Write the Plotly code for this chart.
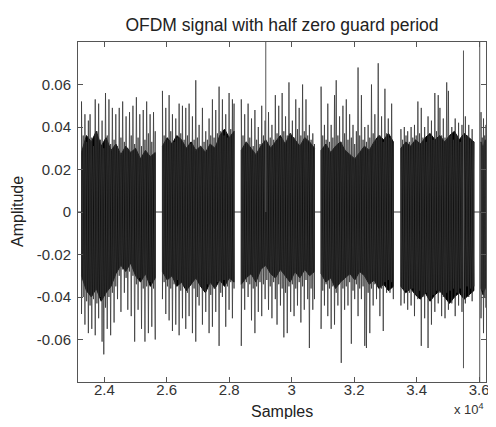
"""Plot an OFDM signal segment whose symbols are separated by half zero guard periods."""

from __future__ import annotations

import numpy as np
import plotly.graph_objects as go

# first sample shown and the sample span of every visible OFDM symbol
first_sample = 23150
symbol_start = [23270, 25862, 28386, 30941, 33497, 36062]
symbol_end = [25631, 28155, 30730, 33254, 35832, 36260]

# positive peaks of each symbol, left to right
upper_peaks = [
    [0.052, 0.036, 0.046, 0.033, 0.043, 0.046, 0.035, 0.031, 0.053, 0.038, 0.051,
     0.034, 0.043, 0.030, 0.056, 0.036, 0.053, 0.032, 0.049, 0.034, 0.046, 0.031,
     0.049, 0.035, 0.052, 0.033, 0.045, 0.030, 0.047, 0.036, 0.050, 0.032, 0.054,
     0.035, 0.046, 0.031, 0.048, 0.034, 0.052, 0.037, 0.046, 0.033, 0.047, 0.038],
    [0.057, 0.036, 0.049, 0.034, 0.055, 0.038, 0.046, 0.033, 0.044, 0.035, 0.051,
     0.037, 0.050, 0.034, 0.049, 0.036, 0.051, 0.032, 0.045, 0.034, 0.062, 0.035,
     0.041, 0.031, 0.049, 0.033, 0.038, 0.034, 0.044, 0.036, 0.053, 0.035, 0.048,
     0.037, 0.059, 0.038, 0.053, 0.036, 0.046, 0.035, 0.056, 0.039, 0.053, 0.051],
    [0.053, 0.036, 0.046, 0.033, 0.051, 0.035, 0.044, 0.031, 0.048, 0.034, 0.040,
     0.032, 0.050, 0.036, 0.043, 0.033, 0.047, 0.035, 0.041, 0.034, 0.055, 0.037,
     0.050, 0.035, 0.056, 0.038, 0.045, 0.036, 0.061, 0.037, 0.043, 0.035, 0.053,
     0.039, 0.049, 0.036, 0.060, 0.038, 0.053, 0.036, 0.041, 0.034, 0.037, 0.032],
    [0.059, 0.036, 0.041, 0.034, 0.051, 0.033, 0.041, 0.035, 0.055, 0.062, 0.036,
     0.045, 0.033, 0.050, 0.037, 0.053, 0.034, 0.046, 0.035, 0.041, 0.032, 0.038,
     0.068, 0.036, 0.055, 0.034, 0.040, 0.033, 0.041, 0.035, 0.060, 0.037, 0.046,
     0.034, 0.070, 0.036, 0.045, 0.033, 0.058, 0.037, 0.044, 0.035, 0.051, 0.033],
    [0.039, 0.034, 0.040, 0.036, 0.038, 0.033, 0.040, 0.035, 0.041, 0.036, 0.052,
     0.037, 0.049, 0.035, 0.040, 0.033, 0.045, 0.036, 0.043, 0.034, 0.056, 0.038,
     0.055, 0.049, 0.036, 0.044, 0.035, 0.061, 0.057, 0.036, 0.040, 0.034, 0.044,
     0.036, 0.042, 0.033, 0.041, 0.035, 0.045, 0.036, 0.041, 0.034, 0.039, 0.033],
    [0.047, 0.035, 0.044, 0.036, 0.041, 0.034],
]

# negative peaks of each symbol, left to right
lower_peaks = [
    [-0.048, -0.040, -0.053, -0.042, -0.057, -0.044, -0.055, -0.041, -0.058, -0.043,
     -0.050, -0.040, -0.061, -0.067, -0.045, -0.055, -0.040, -0.058, -0.038, -0.052,
     -0.035, -0.041, -0.030, -0.047, -0.027, -0.038, -0.031, -0.046, -0.028, -0.049,
     -0.030, -0.061, -0.034, -0.046, -0.031, -0.055, -0.036, -0.061, -0.035, -0.057,
     -0.033, -0.054, -0.036, -0.060],
    [-0.041, -0.033, -0.048, -0.035, -0.051, -0.036, -0.056, -0.034, -0.053, -0.032,
     -0.058, -0.037, -0.050, -0.035, -0.055, -0.038, -0.049, -0.034, -0.057, -0.036,
     -0.061, -0.040, -0.044, -0.035, -0.053, -0.037, -0.047, -0.034, -0.057, -0.039,
     -0.054, -0.036, -0.047, -0.033, -0.063, -0.038, -0.040, -0.032, -0.054, -0.035,
     -0.046, -0.033, -0.050, -0.036],
    [-0.063, -0.036, -0.046, -0.033, -0.040, -0.034, -0.051, -0.036, -0.057, -0.035,
     -0.047, -0.033, -0.049, -0.034, -0.041, -0.032, -0.046, -0.035, -0.050, -0.033,
     -0.041, -0.053, -0.034, -0.044, -0.036, -0.059, -0.038, -0.057, -0.035, -0.047,
     -0.034, -0.049, -0.036, -0.044, -0.033, -0.052, -0.035, -0.046, -0.032, -0.041,
     -0.064, -0.036, -0.046, -0.041],
    [-0.055, -0.037, -0.044, -0.034, -0.049, -0.036, -0.055, -0.035, -0.053, -0.038,
     -0.044, -0.034, -0.071, -0.036, -0.046, -0.035, -0.044, -0.033, -0.062, -0.037,
     -0.041, -0.034, -0.049, -0.036, -0.041, -0.035, -0.063, -0.064, -0.038, -0.057,
     -0.036, -0.044, -0.034, -0.041, -0.035, -0.049, -0.036, -0.056, -0.033, -0.038,
     -0.032, -0.038, -0.033, -0.041],
    [-0.044, -0.036, -0.043, -0.037, -0.046, -0.038, -0.044, -0.036, -0.049, -0.039,
     -0.041, -0.037, -0.063, -0.040, -0.050, -0.038, -0.064, -0.041, -0.053, -0.039,
     -0.047, -0.037, -0.043, -0.038, -0.049, -0.040, -0.050, -0.038, -0.046, -0.037,
     -0.043, -0.036, -0.049, -0.038, -0.044, -0.036, -0.047, -0.038, -0.043, -0.035,
     -0.040, -0.036, -0.042, -0.035],
    [-0.050, -0.037, -0.057, -0.040, -0.045, -0.038],
]

# levels up to which each symbol looks solid black, left to right
core_top = [
    [0.028, 0.036, 0.033, 0.038, 0.031, 0.035, 0.029, 0.032, 0.027, 0.031, 0.028, 0.030,
     0.025, 0.029, 0.026, 0.028],
    [0.031, 0.035, 0.032, 0.036, 0.034, 0.030, 0.033, 0.029, 0.031, 0.028, 0.032, 0.030,
     0.036, 0.039, 0.035, 0.038],
    [0.029, 0.033, 0.030, 0.027, 0.031, 0.034, 0.030, 0.033, 0.036, 0.032, 0.037, 0.034,
     0.031, 0.035, 0.033, 0.030],
    [0.029, 0.032, 0.028, 0.031, 0.033, 0.029, 0.027, 0.025, 0.028, 0.031, 0.029, 0.033,
     0.036, 0.034, 0.037, 0.033],
    [0.030, 0.033, 0.031, 0.034, 0.032, 0.035, 0.037, 0.034, 0.036, 0.033, 0.036, 0.038,
     0.034, 0.037, 0.035, 0.033],
    [0.033, 0.030, 0.034, 0.032],
]
core_bottom = [
    [-0.030, -0.037, -0.040, -0.036, -0.042, -0.038, -0.035, -0.029, -0.025, -0.028,
     -0.024, -0.030, -0.033, -0.029, -0.035, -0.031],
    [-0.028, -0.032, -0.030, -0.035, -0.033, -0.037, -0.034, -0.031, -0.035, -0.038,
     -0.033, -0.036, -0.032, -0.035, -0.031, -0.033],
    [-0.034, -0.031, -0.029, -0.033, -0.027, -0.025, -0.029, -0.031, -0.027, -0.030,
     -0.033, -0.028, -0.031, -0.027, -0.030, -0.028],
    [-0.029, -0.033, -0.031, -0.036, -0.033, -0.031, -0.029, -0.032, -0.028, -0.030,
     -0.034, -0.032, -0.036, -0.034, -0.037, -0.035],
    [-0.035, -0.038, -0.036, -0.039, -0.041, -0.038, -0.042, -0.039, -0.037, -0.040,
     -0.043, -0.040, -0.038, -0.041, -0.039, -0.037],
    [-0.036, -0.039, -0.035, -0.038],
]

# isolated large samples
spike_sample = [29170, 35500, 36020]
spike_top = [0.09, 0.076, 0.09]
spike_bottom = [0.0, -0.0735, -0.09]

x_tick_values = [24000, 26000, 28000, 30000, 32000, 34000, 36000]
x_tick_labels = ["2.4", "2.6", "2.8", "3", "3.2", "3.4", "3.6"]
y_tick_values = [-0.06, -0.04, -0.02, 0, 0.02, 0.04, 0.06]
y_tick_labels = ["-0.06", "-0.04", "-0.02", "0", "0.02", "0.04", "0.06"]

FONT = "Liberation Sans, Arial, sans-serif"
PAGE_OFFSET = 8  # the page body margin around the figure
# the figure fills the page body exactly, so nothing scrolls or is cut off
FIG_WIDTH = 496 - 2 * PAGE_OFFSET
FIG_HEIGHT = 427 - 2 * PAGE_OFFSET
MARGIN_LEFT = 78 - PAGE_OFFSET
MARGIN_RIGHT = 2
PLOT_WIDTH = FIG_WIDTH - MARGIN_LEFT - MARGIN_RIGHT


def peak_path(peaks_per_symbol: list[list[float]]) -> tuple[list, list]:
    """Return x/y of a line that swings from zero to every peak of every symbol."""
    xs: list = []
    ys: list = []
    for start, end, peaks in zip(symbol_start, symbol_end, peaks_per_symbol):
        pos = np.linspace(start, end, len(peaks))
        half = (pos[1] - pos[0]) / 2
        xs.append(start)
        ys.append(0.0)
        for x, v in zip(pos, peaks):
            xs += [x, min(x + half, end)]
            ys += [v, 0.0]
        xs.append(None)
        ys.append(None)
    return xs, ys


def core_path() -> tuple[list, list]:
    """Return x/y of closed outlines around the solid part of every symbol."""
    xs: list = []
    ys: list = []
    for start, end, top, bottom in zip(symbol_start, symbol_end, core_top, core_bottom):
        top_x = np.linspace(start, end, len(top))
        bottom_x = np.linspace(start, end, len(bottom))
        xs += list(top_x) + list(bottom_x[::-1]) + [top_x[0], None]
        ys += list(top) + list(bottom[::-1]) + [top[0], None]
    return xs, ys


def guard_path() -> tuple[list, list]:
    """Return x/y of the zero valued guard intervals between symbols."""
    xs: list = []
    ys: list = []
    for prev_end, start in zip([first_sample] + symbol_end[:-1], symbol_start):
        xs += [prev_end, start, None]
        ys += [0.0, 0.0, None]
    return xs, ys


def plot_ofdm_signal() -> None:
    """Draw the OFDM signal and write it to out.html."""
    fig = go.Figure()

    gx, gy = guard_path()
    fig.add_trace(go.Scatter(x=gx, y=gy, mode="lines", line=dict(color="#444", width=1)))
    cx, cy = core_path()
    fig.add_trace(
        go.Scatter(x=cx, y=cy, mode="lines", fill="toself", fillcolor="black",
                   line=dict(color="black", width=1))
    )
    for peaks in (upper_peaks, lower_peaks):
        px_, py_ = peak_path(peaks)
        fig.add_trace(go.Scatter(x=px_, y=py_, mode="lines", line=dict(color="#333", width=0.75)))

    sx: list = []
    sy: list = []
    for x, top, bottom in zip(spike_sample, spike_top, spike_bottom):
        sx += [x, x, None]
        sy += [bottom, top, None]
    fig.add_trace(go.Scatter(x=sx, y=sy, mode="lines", line=dict(color="#555", width=1)))

    axis_style = dict(
        showline=True,
        linecolor="#555",
        linewidth=1,
        mirror="ticks",
        ticks="inside",
        ticklen=5,
        tickcolor="#555",
        showgrid=False,
        zeroline=False,
        automargin=False,
        ticklabeloverflow="allow",
        tickfont=dict(family=FONT, size=15, color="#333"),
    )
    fig.update_xaxes(
        range=[23158, 36221],
        tickvals=x_tick_values,
        ticktext=x_tick_labels,
        ticklabelstandoff=-6,
        **axis_style,
    )
    fig.update_yaxes(
        range=[-0.08, 0.08],
        tickvals=y_tick_values,
        ticktext=y_tick_labels,
        ticklabelstandoff=3,
        **axis_style,
    )
    label_font = dict(family=FONT, size=16, color="#222")
    fig.add_annotation(
        text="Samples", xref="paper", yref="paper", x=0.5, y=-30 / 340,
        xanchor="center", yanchor="middle", showarrow=False, font=label_font,
    )
    fig.add_annotation(
        text="Amplitude", xref="paper", yref="paper", x=-61 / PLOT_WIDTH, y=0.5,
        xanchor="center", yanchor="middle", textangle=-90, showarrow=False, font=label_font,
    )
    fig.add_annotation(
        text="x 10<sup>4</sup>", xref="paper", yref="paper", x=1.0, y=-37 / 340,
        xanchor="right", yanchor="bottom", showarrow=False,
        font=dict(family=FONT, size=13, color="#333"),
    )
    fig.update_layout(
        width=FIG_WIDTH,
        height=FIG_HEIGHT,
        margin=dict(l=MARGIN_LEFT, r=MARGIN_RIGHT, t=42 - PAGE_OFFSET,
                    b=FIG_HEIGHT - (382 - PAGE_OFFSET)),
        plot_bgcolor="white",
        paper_bgcolor="white",
        showlegend=False,
        title=dict(
            text="OFDM signal with half zero guard period",
            x=0.5,
            xref="paper",
            xanchor="center",
            y=1 - (25 - PAGE_OFFSET) / FIG_HEIGHT,
            yref="container",
            yanchor="middle",
            font=dict(family=FONT, size=17.5, color="#222"),
        ),
    )

    fig.write_html("out.html")


if __name__ == "__main__":
    plot_ofdm_signal()
